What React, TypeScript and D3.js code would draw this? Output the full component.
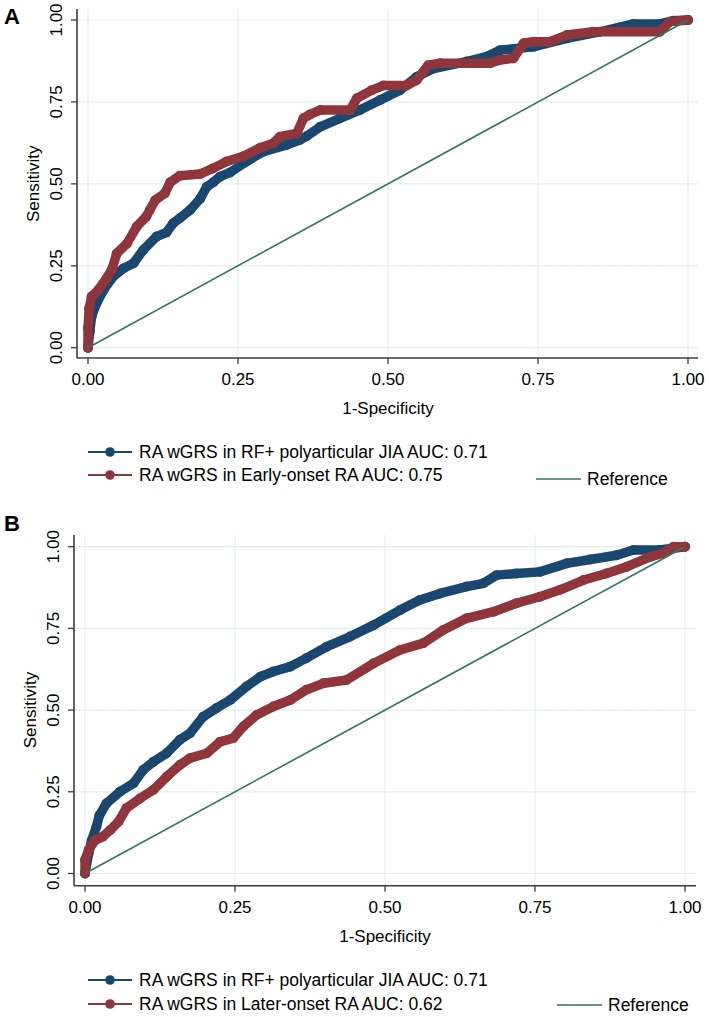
import React from "react";
import * as d3 from "d3";

type Pt = [number, number];

const tickValues = [0, 0.25, 0.5, 0.75, 1];
const tickLabels = ["0.00", "0.25", "0.50", "0.75", "1.00"];

const panelABlue: Pt[] = [
  [0, 0], [0.003, 0.05], [0.006, 0.095], [0.014, 0.135], [0.026, 0.176], [0.042, 0.217],
  [0.059, 0.242], [0.076, 0.258], [0.092, 0.298], [0.114, 0.339], [0.131, 0.352], [0.142, 0.38],
  [0.153, 0.395], [0.17, 0.42], [0.187, 0.455], [0.198, 0.491], [0.209, 0.505], [0.22, 0.522],
  [0.237, 0.535], [0.264, 0.568], [0.292, 0.598], [0.331, 0.619], [0.353, 0.634], [0.364, 0.645],
  [0.387, 0.674], [0.42, 0.7], [0.453, 0.725], [0.487, 0.756], [0.52, 0.786], [0.548, 0.827],
  [0.576, 0.852], [0.631, 0.873], [0.664, 0.888], [0.687, 0.908], [0.742, 0.918], [0.798, 0.944],
  [0.853, 0.964], [0.909, 0.988], [0.953, 0.988], [0.976, 0.998], [1, 1],
];

const panelARed: Pt[] = [
  [0, 0], [0, 0.06], [0.002, 0.12], [0.006, 0.156], [0.017, 0.176], [0.031, 0.212], [0.04, 0.24],
  [0.048, 0.288], [0.065, 0.318], [0.081, 0.369], [0.097, 0.4], [0.103, 0.42], [0.112, 0.45],
  [0.128, 0.471], [0.137, 0.505], [0.153, 0.525], [0.187, 0.53], [0.208, 0.547], [0.231, 0.568],
  [0.259, 0.584], [0.287, 0.61], [0.309, 0.624], [0.32, 0.644], [0.348, 0.654], [0.359, 0.7],
  [0.37, 0.712], [0.387, 0.725], [0.437, 0.725], [0.448, 0.761], [0.473, 0.786], [0.492, 0.8],
  [0.531, 0.8], [0.548, 0.817], [0.567, 0.862], [0.587, 0.868], [0.67, 0.868], [0.687, 0.878],
  [0.709, 0.883], [0.726, 0.929], [0.742, 0.934], [0.77, 0.934], [0.798, 0.954], [0.842, 0.964],
  [0.953, 0.964], [0.97, 0.995], [1, 1],
];

const panelBBlue: Pt[] = [
  [0, 0], [0.006, 0.061], [0.011, 0.1], [0.019, 0.143], [0.024, 0.178], [0.036, 0.215],
  [0.058, 0.25], [0.081, 0.276], [0.097, 0.317], [0.114, 0.342], [0.136, 0.368], [0.158, 0.409],
  [0.175, 0.429], [0.197, 0.48], [0.219, 0.506], [0.242, 0.531], [0.269, 0.572], [0.292, 0.602],
  [0.314, 0.618], [0.342, 0.633], [0.369, 0.659], [0.403, 0.694], [0.442, 0.725], [0.481, 0.76],
  [0.525, 0.806], [0.558, 0.837], [0.592, 0.857], [0.636, 0.878], [0.664, 0.888], [0.686, 0.913],
  [0.719, 0.918], [0.758, 0.923], [0.803, 0.949], [0.842, 0.961], [0.886, 0.974], [0.914, 0.99],
  [0.958, 0.99], [1, 1],
];

const panelBRed: Pt[] = [
  [0, 0], [0, 0.041], [0.006, 0.072], [0.017, 0.102], [0.03, 0.113], [0.042, 0.133],
  [0.056, 0.159], [0.069, 0.2], [0.092, 0.23], [0.114, 0.256], [0.136, 0.296], [0.158, 0.332],
  [0.175, 0.353], [0.203, 0.368], [0.225, 0.403], [0.247, 0.414], [0.264, 0.45], [0.286, 0.485],
  [0.314, 0.511], [0.342, 0.531], [0.369, 0.562], [0.397, 0.582], [0.436, 0.592], [0.481, 0.643],
  [0.525, 0.684], [0.564, 0.705], [0.597, 0.745], [0.636, 0.781], [0.681, 0.801], [0.719, 0.827],
  [0.758, 0.847], [0.792, 0.868], [0.831, 0.898], [0.869, 0.918], [0.903, 0.939], [0.942, 0.969],
  [0.964, 0.98], [0.981, 1], [1, 1],
];

const referenceLine: Pt[] = [[0, 0], [1, 1]];

const legendA = [
  "RA wGRS in RF+ polyarticular JIA AUC: 0.71",
  "RA wGRS in Early-onset RA AUC: 0.75",
];
const legendB = [
  "RA wGRS in RF+ polyarticular JIA AUC: 0.71",
  "RA wGRS in Later-onset RA AUC: 0.62",
];

const BLUE = "#1a476f";
const RED = "#90353b";
const GREEN = "#2f7760";
const GRID = "#e4eef1";
const AXIS = "#3c3c3c";
const FONT = "'Liberation Sans', Arial, sans-serif";

interface PanelProps {
  label: string;
  labelY: number;
  x0: number; x1: number; y0: number; y1: number;
  axisX: number; axisY: number; top: number; right: number;
  blue: Pt[]; red: Pt[];
  legend: string[];
  legendY: number[];
  refLegendX: number;
  refLegendY: number;
}

function Panel(p: PanelProps) {
  const x = d3.scaleLinear().domain([0, 1]).range([p.x0, p.x1]);
  const y = d3.scaleLinear().domain([0, 1]).range([p.y0, p.y1]);
  const line = d3.line<Pt>().x((d) => x(d[0])).y((d) => y(d[1]));
  const series = [
    { data: p.blue, color: BLUE },
    { data: p.red, color: RED },
  ];
  return (
    <g fontFamily={FONT} fill="#000">
      <text x={4} y={p.labelY} fontSize={22} fontWeight="bold">{p.label}</text>
      {tickValues.map((t) => (
        <line key={"gy" + t} x1={p.axisX} x2={p.right} y1={y(t)} y2={y(t)} stroke={GRID} strokeWidth={1.2} />
      ))}
      {tickValues.map((t) => (
        <line key={"gx" + t} x1={x(t)} x2={x(t)} y1={p.top} y2={p.axisY} stroke={GRID} strokeWidth={1.2} />
      ))}
      {series.map((s, i) => (
        <g key={i}>
          <path d={line(s.data) || ""} fill="none" stroke={s.color} strokeWidth={9.5} strokeLinejoin="round" strokeLinecap="round" />
          {s.data.map((d, j) => (
            <circle key={j} cx={x(d[0])} cy={y(d[1])} r={5} fill={s.color} />
          ))}
        </g>
      ))}
      <path d={line(referenceLine) || ""} fill="none" stroke={GREEN} strokeWidth={1.6} />
      <line x1={p.axisX} x2={p.axisX} y1={p.top} y2={p.axisY} stroke={AXIS} strokeWidth={1.6} />
      <line x1={p.axisX} x2={p.right} y1={p.axisY} y2={p.axisY} stroke={AXIS} strokeWidth={1.6} />
      {tickValues.map((t, i) => (
        <g key={"ty" + t}>
          <line x1={p.axisX - 6} x2={p.axisX} y1={y(t)} y2={y(t)} stroke={AXIS} strokeWidth={1.3} />
          <text transform={`translate(${p.axisX - 15},${y(t)}) rotate(-90)`} textAnchor="middle" fontSize={17}>
            {tickLabels[i]}
          </text>
        </g>
      ))}
      {tickValues.map((t, i) => (
        <g key={"tx" + t}>
          <line x1={x(t)} x2={x(t)} y1={p.axisY} y2={p.axisY + 6} stroke={AXIS} strokeWidth={1.3} />
          <text x={x(t)} y={p.axisY + 27} textAnchor="middle" fontSize={17}>{tickLabels[i]}</text>
        </g>
      ))}
      <text transform={`translate(${p.axisX - 38},${(p.y0 + p.y1) / 2}) rotate(-90)`} textAnchor="middle" fontSize={17}>
        Sensitivity
      </text>
      <text x={(p.x0 + p.x1) / 2} y={p.axisY + 56} textAnchor="middle" fontSize={17}>1-Specificity</text>
      {p.legend.map((txt, i) => (
        <g key={"lg" + i}>
          <line x1={88} x2={132} y1={p.legendY[i]} y2={p.legendY[i]} stroke={i === 0 ? BLUE : RED} strokeWidth={2} />
          <circle cx={110} cy={p.legendY[i]} r={4.8} fill={i === 0 ? BLUE : RED} />
          <text x={139} y={p.legendY[i] + 6} fontSize={17.5}>{txt}</text>
        </g>
      ))}
      <line x1={p.refLegendX} x2={p.refLegendX + 45} y1={p.refLegendY} y2={p.refLegendY} stroke={GREEN} strokeWidth={1.6} />
      <text x={p.refLegendX + 51} y={p.refLegendY + 6} fontSize={17.5}>Reference</text>
    </g>
  );
}

export default function App() {
  return (
    <svg width={709} height={1017} style={{ position: "absolute", left: 0, top: 0, background: "#fff" }}>
      <rect width={709} height={1017} fill="#fff" />
      <Panel
        label="A" labelY={24}
        x0={88} x1={688} y0={347.7} y1={20}
        axisX={77} axisY={358} top={9} right={698}
        blue={panelABlue} red={panelARed}
        legend={legendA} legendY={[452, 475]}
        refLegendX={536} refLegendY={479}
      />
      <Panel
        label="B" labelY={531}
        x0={85} x1={685} y0={873.5} y1={546.7}
        axisX={74} axisY={885.7} top={535} right={696}
        blue={panelBBlue} red={panelBRed}
        legend={legendB} legendY={[980, 1004]}
        refLegendX={557} refLegendY={1005}
      />
    </svg>
  );
}
